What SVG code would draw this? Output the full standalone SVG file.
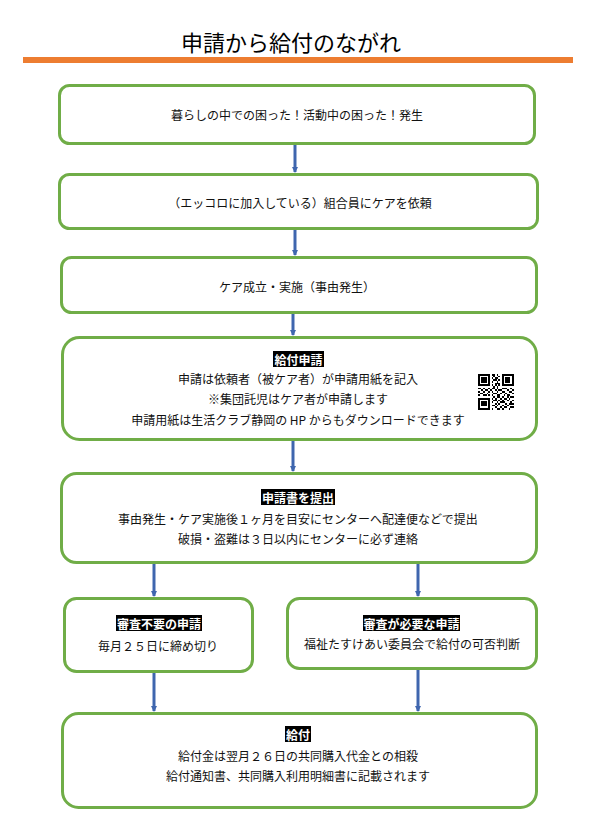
<svg xmlns="http://www.w3.org/2000/svg" width="595" height="829" viewBox="0 0 595 829">
<defs>
<style>
.box{fill:#fff;stroke:#70AD47;stroke-width:3}
.t{font-family:"Noto Sans CJK JP","Noto Sans CJK SC",sans-serif;font-size:12px;fill:#111;text-anchor:middle;dominant-baseline:central}
.h{font-family:"Noto Sans CJK JP","Noto Sans CJK SC",sans-serif;font-size:12px;font-weight:bold;fill:#fff;text-anchor:middle;dominant-baseline:central}
.hb{fill:#000}
.c{stroke:#3F66AE;stroke-width:3;fill:none;marker-end:url(#ah)}
</style>
<marker id="ah" viewBox="0 0 6 6" refX="5" refY="3" markerWidth="2" markerHeight="2" orient="auto" markerUnits="strokeWidth">
<path d="M0 0L6 3L0 6z" fill="#3F66AE"/>
</marker>
</defs>
<rect width="595" height="829" fill="#fff"/>
<g id="title">
<text x="291" y="41" style="font-family:'Noto Sans CJK JP','Noto Sans CJK SC',sans-serif;font-size:22px;fill:#000;text-anchor:middle;dominant-baseline:central">申請から給付のながれ</text>
<rect x="23" y="57" width="550" height="6" fill="#ED7D31"/>
</g>
<g id="connectors">
<line class="c" x1="295" y1="145" x2="295" y2="172"/>
<line class="c" x1="295" y1="230" x2="295" y2="255"/>
<line class="c" x1="293" y1="314" x2="293" y2="335"/>
<line class="c" x1="293" y1="440" x2="293" y2="471"/>
<line class="c" x1="154" y1="563" x2="154" y2="596"/>
<line class="c" x1="418" y1="563" x2="418" y2="596"/>
<line class="c" x1="154" y1="672" x2="154" y2="711"/>
<line class="c" x1="418" y1="669" x2="418" y2="711"/>
</g>
<g id="n1">
<rect class="box" x="59.5" y="85.5" width="475" height="58" rx="10"/>
<text class="t" x="297" y="114">暮らしの中での困った！活動中の困った！発生</text>
</g>
<g id="n2">
<rect class="box" x="59.5" y="174.5" width="478" height="54" rx="10"/>
<text class="t" x="300" y="202">（エッコロに加入している）組合員にケアを依頼</text>
</g>
<g id="n3">
<rect class="box" x="61.5" y="257.5" width="475" height="55" rx="10"/>
<text class="t" x="297" y="286">ケア成立・実施（事由発生）</text>
</g>
<g id="n4">
<rect class="box" x="62.5" y="337.5" width="474" height="102" rx="17"/>
<rect class="hb" x="273" y="351" width="51" height="16"/>
<text class="h" x="298.5" y="359">給付申請</text>
<text class="t" x="298" y="378">申請は依頼者（被ケア者）が申請用紙を記入</text>
<text class="t" x="298" y="398">※集団託児はケア者が申請します</text>
<text class="t" x="298" y="419">申請用紙は生活クラブ静岡の HP からもダウンロードできます</text>
<g transform="translate(478,374) scale(1.7)" fill="#000" shape-rendering="crispEdges">
<path fill-rule="evenodd" d="M0 0h7v7h-7z M1 1v5h5v-5z M2 2h3v3h-3z M14 0h7v7h-7z M15 1v5h5v-5z M16 2h3v3h-3z M0 14h7v7h-7z M1 15v5h5v-5z M2 16h3v3h-3z"/>
<path d="M8 0h2v1h-2z M11 0h1v1h-1z M9 1h1v1h-1z M12 1h1v1h-1z M8 2h1v1h-1z M10 2h2v1h-2z M9 3h2v1h-2z M12 3h1v1h-1z M8 4h1v1h-1z M11 4h1v1h-1z M10 5h3v1h-3z M8 6h1v1h-1z M10 6h1v1h-1z M12 6h1v1h-1z M9 7h1v1h-1z M11 7h1v1h-1z
M0 8h2v1h-2z M3 8h1v1h-1z M6 8h1v1h-1z M8 8h2v1h-2z M11 8h1v1h-1z M14 8h3v1h-3z M19 8h1v1h-1z
M2 9h1v1h-1z M4 9h2v1h-2z M7 9h1v1h-1z M10 9h1v1h-1z M12 9h2v1h-2z M17 9h1v1h-1z M20 9h1v1h-1z
M0 10h1v1h-1z M3 10h1v1h-1z M6 10h1v1h-1z M8 10h1v1h-1z M11 10h1v1h-1z M14 10h2v1h-2z M18 10h2v1h-2z
M1 11h2v1h-2z M5 11h1v1h-1z M9 11h2v1h-2z M13 11h1v1h-1z M16 11h1v1h-1z M20 11h1v1h-1z
M0 12h1v1h-1z M3 12h2v1h-2z M6 12h1v1h-1z M8 12h1v1h-1z M11 12h2v1h-2z M15 12h1v1h-1z M17 12h2v1h-2z
M9 13h1v1h-1z M11 13h2v1h-2z M14 13h1v1h-1z M17 13h1v1h-1z M19 13h2v1h-2z
M8 14h1v1h-1z M10 14h1v1h-1z M13 14h1v1h-1z M15 14h2v1h-2z M18 14h1v1h-1z
M9 15h2v1h-2z M12 15h1v1h-1z M14 15h1v1h-1z M17 15h1v1h-1z M20 15h1v1h-1z
M8 16h1v1h-1z M11 16h1v1h-1z M13 16h3v1h-3z M19 16h1v1h-1z
M10 17h1v1h-1z M12 17h1v1h-1z M16 17h1v1h-1z M18 17h3v1h-3z
M8 18h2v1h-2z M11 18h1v1h-1z M14 18h1v1h-1z M17 18h1v1h-1z
M10 19h1v1h-1z M13 19h1v1h-1z M15 19h2v1h-2z M19 19h2v1h-2z
M8 20h1v1h-1z M11 20h2v1h-2z M14 20h1v1h-1z M18 20h1v1h-1z"/>
</g>
</g>
<g id="n5">
<rect class="box" x="61.5" y="473.5" width="475" height="89" rx="15"/>
<rect class="hb" x="261" y="489" width="74" height="16"/>
<text class="h" x="298" y="497">申請書を提出</text>
<text class="t" x="298" y="518">事由発生・ケア実施後１ヶ月を目安にセンターへ配達便などで提出</text>
<text class="t" x="298" y="538">破損・盗難は３日以内にセンターに必ず連絡</text>
</g>
<g id="n6">
<rect class="box" x="64.5" y="598.5" width="188" height="73" rx="12"/>
<rect class="hb" x="116" y="615" width="86" height="16"/>
<text class="h" x="159" y="623">審査不要の申請</text>
<text class="t" x="158" y="645">毎月２５日に締め切り</text>
</g>
<g id="n7">
<rect class="box" x="287.5" y="598.5" width="249" height="70" rx="12"/>
<rect class="hb" x="363" y="615" width="97" height="16"/>
<text class="h" x="411.5" y="623">審査が必要な申請</text>
<text class="t" x="412" y="643">福祉たすけあい委員会で給付の可否判断</text>
</g>
<g id="n8">
<rect class="box" x="62.5" y="713.5" width="474" height="94" rx="16"/>
<rect class="hb" x="285" y="726" width="26" height="16"/>
<text class="h" x="298" y="734">給付</text>
<text class="t" x="298" y="755">給付金は翌月２６日の共同購入代金との相殺</text>
<text class="t" x="298" y="775">給付通知書、共同購入利用明細書に記載されます</text>
</g>
</svg>
